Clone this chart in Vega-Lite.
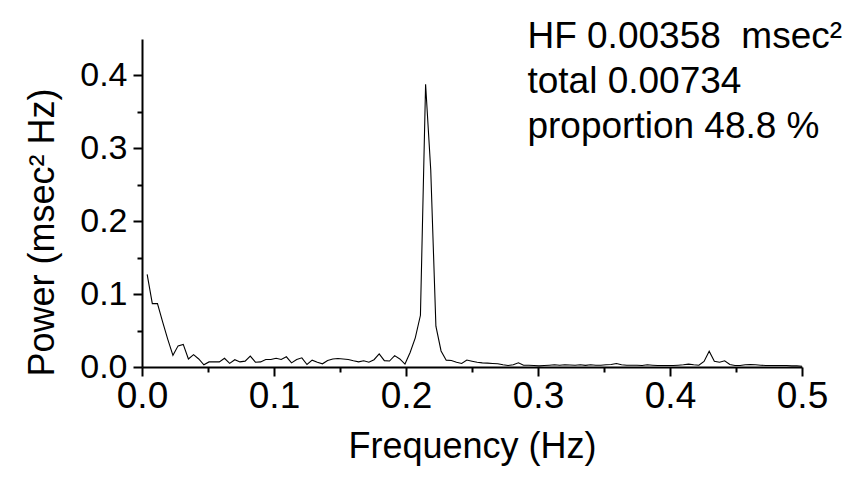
{
  "$schema": "https://vega.github.io/schema/vega-lite/v6.json",
  "width": 660,
  "height": 328,
  "autosize": {"type": "none"},
  "padding": {"left": 142, "top": 39, "right": 49, "bottom": 110},
  "background": "white",
  "config": {"view": {"stroke": null}, "font": "Liberation Sans"},
  "layer": [
    {
      "data": {"values": [
        {"f": 0.0039063, "p": 0.127}, {"f": 0.0078125, "p": 0.087}, {"f": 0.0117188, "p": 0.087}, {"f": 0.015625, "p": 0.062},
        {"f": 0.0195313, "p": 0.038}, {"f": 0.0234375, "p": 0.016}, {"f": 0.0273438, "p": 0.029}, {"f": 0.03125, "p": 0.031},
        {"f": 0.0351563, "p": 0.011}, {"f": 0.0390625, "p": 0.017}, {"f": 0.0429688, "p": 0.011}, {"f": 0.046875, "p": 0.003},
        {"f": 0.0507813, "p": 0.007}, {"f": 0.0546875, "p": 0.007}, {"f": 0.0585938, "p": 0.007}, {"f": 0.0625, "p": 0.012},
        {"f": 0.0664063, "p": 0.005}, {"f": 0.0703125, "p": 0.010}, {"f": 0.0742188, "p": 0.007}, {"f": 0.078125, "p": 0.008},
        {"f": 0.0820313, "p": 0.015}, {"f": 0.0859375, "p": 0.0066}, {"f": 0.0898438, "p": 0.007}, {"f": 0.09375, "p": 0.0103},
        {"f": 0.0976563, "p": 0.0103}, {"f": 0.1015625, "p": 0.012}, {"f": 0.1054688, "p": 0.0103}, {"f": 0.109375, "p": 0.014},
        {"f": 0.1132813, "p": 0.0057}, {"f": 0.1171875, "p": 0.0103}, {"f": 0.1210938, "p": 0.0126}, {"f": 0.125, "p": 0.0034},
        {"f": 0.1289063, "p": 0.0094}, {"f": 0.1328125, "p": 0.0066}, {"f": 0.1367188, "p": 0.0044}, {"f": 0.140625, "p": 0.009},
        {"f": 0.1445313, "p": 0.011}, {"f": 0.1484375, "p": 0.0117}, {"f": 0.1523438, "p": 0.011}, {"f": 0.15625, "p": 0.0103},
        {"f": 0.1601563, "p": 0.0085}, {"f": 0.1640625, "p": 0.007}, {"f": 0.1679688, "p": 0.0085}, {"f": 0.171875, "p": 0.0066},
        {"f": 0.1757813, "p": 0.010}, {"f": 0.1796875, "p": 0.018}, {"f": 0.1835938, "p": 0.0087}, {"f": 0.1875, "p": 0.0082},
        {"f": 0.1914063, "p": 0.0156}, {"f": 0.1953125, "p": 0.011}, {"f": 0.1992188, "p": 0.004}, {"f": 0.203125, "p": 0.020},
        {"f": 0.2070313, "p": 0.040}, {"f": 0.2109375, "p": 0.071}, {"f": 0.2148438, "p": 0.388}, {"f": 0.21875, "p": 0.27},
        {"f": 0.2226563, "p": 0.056}, {"f": 0.2265625, "p": 0.022}, {"f": 0.2304688, "p": 0.0094}, {"f": 0.234375, "p": 0.009},
        {"f": 0.2382813, "p": 0.0066}, {"f": 0.2421875, "p": 0.0048}, {"f": 0.2460938, "p": 0.0095}, {"f": 0.25, "p": 0.008},
        {"f": 0.2539063, "p": 0.0066}, {"f": 0.2578125, "p": 0.0057}, {"f": 0.2617188, "p": 0.0053}, {"f": 0.265625, "p": 0.0048},
        {"f": 0.2695313, "p": 0.0044}, {"f": 0.2734375, "p": 0.003}, {"f": 0.2773438, "p": 0.002}, {"f": 0.28125, "p": 0.003},
        {"f": 0.2851563, "p": 0.0057}, {"f": 0.2890625, "p": 0.0025}, {"f": 0.2929688, "p": 0.0025}, {"f": 0.296875, "p": 0.002},
        {"f": 0.3007813, "p": 0.0016}, {"f": 0.3046875, "p": 0.002}, {"f": 0.3085938, "p": 0.0025}, {"f": 0.3125, "p": 0.003},
        {"f": 0.3164063, "p": 0.0025}, {"f": 0.3203125, "p": 0.003}, {"f": 0.3242188, "p": 0.0028}, {"f": 0.328125, "p": 0.0025},
        {"f": 0.3320313, "p": 0.003}, {"f": 0.3359375, "p": 0.0023}, {"f": 0.3398438, "p": 0.003}, {"f": 0.34375, "p": 0.0025},
        {"f": 0.3476563, "p": 0.0025}, {"f": 0.3515625, "p": 0.003}, {"f": 0.3554688, "p": 0.0034}, {"f": 0.359375, "p": 0.0048},
        {"f": 0.3632813, "p": 0.003}, {"f": 0.3671875, "p": 0.0025}, {"f": 0.3710938, "p": 0.0025}, {"f": 0.375, "p": 0.0025},
        {"f": 0.3789063, "p": 0.002}, {"f": 0.3828125, "p": 0.003}, {"f": 0.3867188, "p": 0.0025}, {"f": 0.390625, "p": 0.002},
        {"f": 0.3945313, "p": 0.002}, {"f": 0.3984375, "p": 0.002}, {"f": 0.4023438, "p": 0.002}, {"f": 0.40625, "p": 0.0025},
        {"f": 0.4101563, "p": 0.003}, {"f": 0.4140625, "p": 0.004}, {"f": 0.4179688, "p": 0.003}, {"f": 0.421875, "p": 0.0025},
        {"f": 0.4257813, "p": 0.0076}, {"f": 0.4296875, "p": 0.0217}, {"f": 0.4335938, "p": 0.008}, {"f": 0.4375, "p": 0.0066},
        {"f": 0.4414063, "p": 0.0085}, {"f": 0.4453125, "p": 0.0034}, {"f": 0.4492188, "p": 0.002}, {"f": 0.453125, "p": 0.002},
        {"f": 0.4570313, "p": 0.003}, {"f": 0.4609375, "p": 0.0034}, {"f": 0.4648438, "p": 0.003}, {"f": 0.46875, "p": 0.0025},
        {"f": 0.4726563, "p": 0.002}, {"f": 0.4765625, "p": 0.002}, {"f": 0.4804688, "p": 0.002}, {"f": 0.484375, "p": 0.002},
        {"f": 0.4882813, "p": 0.002}, {"f": 0.4921875, "p": 0.0016}, {"f": 0.4960938, "p": 0.0016}, {"f": 0.5, "p": 0.0011}
      ]},
      "mark": {"type": "line", "color": "black", "strokeWidth": 1.1},
      "encoding": {
        "x": {
          "field": "f", "type": "quantitative",
          "scale": {"domain": [0, 0.5], "nice": false, "zero": false},
          "axis": {
            "values": [0, 0.05, 0.1, 0.15, 0.2, 0.25, 0.3, 0.35, 0.4, 0.45, 0.5],
            "title": "Frequency (Hz)", "grid": false,
            "domainColor": "black", "domainWidth": 2,
            "tickColor": "black", "tickWidth": 2,
            "tickSize": {"condition": {"test": "round(datum.value*100) % 10 != 0", "value": 5}, "value": 9},
            "labelExpr": "round(datum.value*100) % 10 == 0 ? format(datum.value, '.1f') : ''",
            "labelFont": "Liberation Sans", "labelFontSize": 37, "labelColor": "black",
            "labelPadding": 2, "labelOverlap": false, "labelFlush": false,
            "titleFont": "Liberation Sans", "titleFontSize": 36, "titleFontWeight": "normal", "titleColor": "black",
            "titleX": 330, "titleY": 90, "titleBaseline": "alphabetic", "titleAlign": "center"
          }
        },
        "y": {
          "field": "p", "type": "quantitative",
          "scale": {"domain": [0, 0.45], "nice": false},
          "axis": {
            "values": [0, 0.05, 0.1, 0.15, 0.2, 0.25, 0.3, 0.35, 0.4],
            "title": "Power (msec² Hz)", "grid": false,
            "domainColor": "black", "domainWidth": 2,
            "tickColor": "black", "tickWidth": 2,
            "tickSize": {"condition": {"test": "round(datum.value*100) % 10 != 0", "value": 5}, "value": 9},
            "labelExpr": "round(datum.value*100) % 10 == 0 ? format(datum.value, '.1f') : ''",
            "labelFont": "Liberation Sans", "labelFontSize": 34, "labelColor": "black",
            "labelPadding": 6, "labelOverlap": false, "labelFlush": false,
            "titleFont": "Liberation Sans", "titleFontSize": 36, "titleFontWeight": "normal", "titleColor": "black",
            "titleAngle": -90, "titleX": -89, "titleY": 193, "titleBaseline": "alphabetic", "titleAlign": "center"
          }
        }
      }
    },
    {
      "data": {"values": [{}]},
      "mark": {"type": "text", "align": "left", "baseline": "alphabetic", "fontSize": 37, "lineHeight": 45, "font": "Liberation Sans", "color": "black"},
      "encoding": {
        "x": {"datum": 0.292},
        "y": {"datum": 0.4377},
        "text": {"value": ["HF 0.00358\u00a0 msec²", "total 0.00734", "proportion 48.8 %"]}
      }
    }
  ]
}
